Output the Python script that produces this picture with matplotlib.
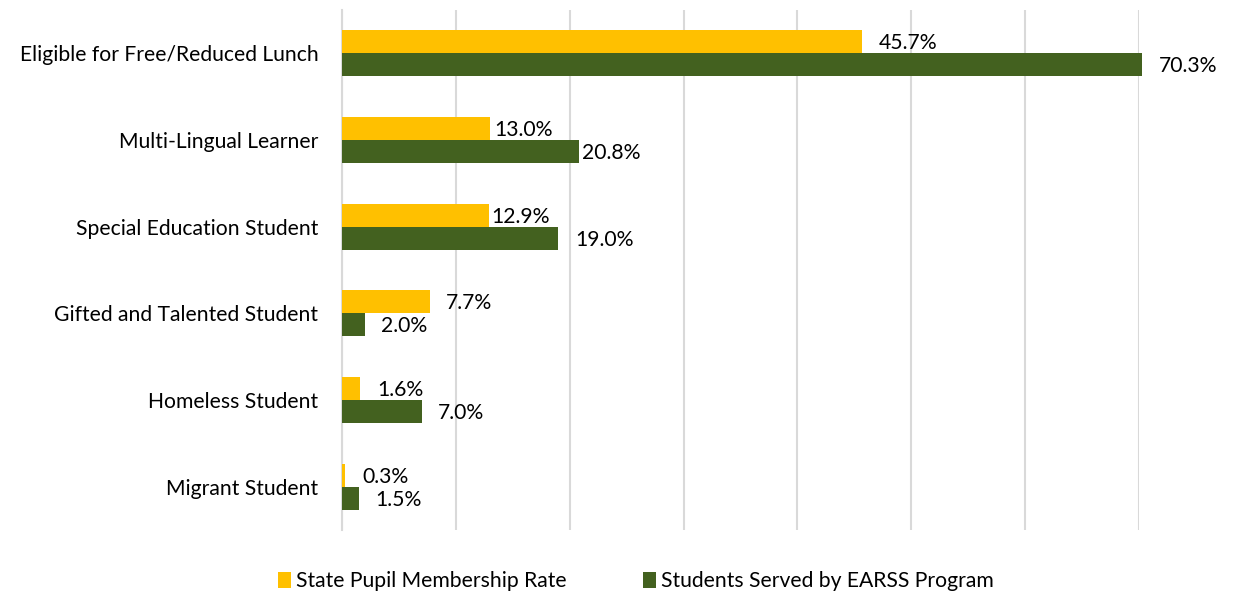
import numpy as np
import matplotlib.pyplot as plt

plt.rcParams['font.family'] = ['Lato', 'DejaVu Sans']

categories = ["Eligible for Free/Reduced Lunch", "Multi-Lingual Learner",
              "Special Education Student", "Gifted and Talented Student",
              "Homeless Student", "Migrant Student"]
state_rate = [45.7, 13.0, 12.9, 7.7, 1.6, 0.3]
earss_rate = [70.3, 20.8, 19.0, 2.0, 7.0, 1.5]
series_names = ["State Pupil Membership Rate", "Students Served by EARSS Program"]

yellow = '#FFC000'
green = '#43611F'
grid_c = '#D9D9D9'
fs = 15.2

# label gaps in points (a few labels sit closer to their bars in the original)
state_gap = [12, 3, 1.5, 12, 12, 12]
earss_gap = [12, 2, 12, 12, 12, 12]

fig = plt.figure(figsize=(12.45, 5.95), dpi=100)
ax = fig.add_axes([342 / 1245, 65 / 595, 797 / 1245, 520 / 595])

y = np.arange(len(categories))
h = 0.265
b1 = ax.barh(y - h / 2, state_rate, height=h, color=yellow, label=series_names[0], zorder=3)
b2 = ax.barh(y + h / 2, earss_rate, height=h, color=green, label=series_names[1], zorder=3)
for bar in list(b1) + list(b2):
    bar.set_clip_on(False)

for i in range(len(categories)):
    ax.annotate(f"{state_rate[i]:.1f}%", (state_rate[i], y[i] - h / 2),
                xytext=(state_gap[i], -1), textcoords='offset points',
                va='center', ha='left', fontsize=fs, color='black',
                annotation_clip=False)
    ax.annotate(f"{earss_rate[i]:.1f}%", (earss_rate[i], y[i] + h / 2),
                xytext=(earss_gap[i], -1), textcoords='offset points',
                va='center', ha='left', fontsize=fs, color='black',
                annotation_clip=False)

ax.set_xlim(0, 70)
ax.set_ylim(len(categories) - 0.5, -0.5)
ax.set_xticks(np.arange(0, 71, 10))
ax.set_xticklabels([])
ax.set_yticks(y)
ax.set_yticklabels(categories, fontsize=fs)
ax.tick_params(length=0, pad=17)
ax.xaxis.grid(True, color=grid_c, linewidth=1.5, zorder=0)
for s in ['top', 'right', 'bottom']:
    ax.spines[s].set_visible(False)
ax.spines['left'].set_color(grid_c)
ax.spines['left'].set_linewidth(1.5)

fig.legend(handles=[b1, b2], loc='center', bbox_to_anchor=(636 / 1245, 1 - 581 / 595),
           ncol=2, frameon=False, fontsize=fs, handlelength=0.6, handleheight=0.8,
           handletextpad=0.25, columnspacing=3.6)

fig.savefig('out.png', dpi=100)
